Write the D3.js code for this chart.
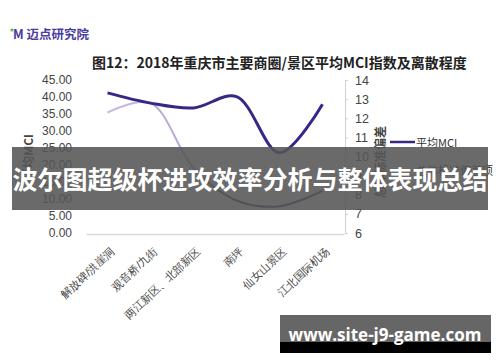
<!DOCTYPE html>
<html>
<head>
<meta charset="utf-8">
<script src="https://cdn.jsdelivr.net/npm/d3@7.9.0/dist/d3.min.js"></script>
<style>
  body { margin: 0; background: #fff; }
  svg { display: block; font-family: "Noto Sans CJK SC", "Liberation Sans", sans-serif; }
</style>
</head>
<body>
<svg width="500" height="362"></svg>
<script>
// data
const categories = ['解放碑/洪崖洞', '观音桥/九街', '两江新区、北部新区', '南坪', '仙女山景区', '江北国际机场'];
const mciValues = [41.2, 38.2, 36.8, 40.1, 23.6, 37.9];
const stdValues = [12.3, 12.8, 9.4, 7.7, 7.4, 8.2];
const leftTicks = [0, 5, 10, 15, 20, 25, 30, 35, 40, 45];
const rightTicks = [6, 7, 8, 9, 10, 11, 12, 13, 14];

const svg = d3.select('svg');

let x = d3.scaleBand().domain(categories).range([86, 344]);
let yL = d3.scaleLinear().domain([0, 45]).range([233, 80]);
let yR = d3.scaleLinear().domain([6, 14]).range([233, 80]);
const cx = d => x(d) + x.bandwidth() / 2;

// logo + title
svg.append('circle').attr('cx', 12).attr('cy', 30).attr('r', 1.6).attr('fill', '#5cb85c');
svg.append('text').attr('x', 13).attr('y', 39)
  .attr('font-size', 12.5).attr('font-weight', 'bold').attr('fill', '#4a3c9c')
  .text('M 迈点研究院');
svg.append('text').attr('x', 92).attr('y', 68)
  .attr('font-size', 14).attr('font-weight', 'bold').attr('fill', '#222')
  .text('图12：2018年重庆市主要商圈/景区平均MCI指数及离散程度');

// left axis
let gL = svg.append('g').attr('transform', 'translate(76,0)')
  .call(d3.axisLeft(yL).tickValues(leftTicks).tickFormat(d3.format('.2f')).tickSize(0).tickPadding(4));
gL.select('.domain').remove();
gL.selectAll('text').attr('font-size', 12).attr('fill', '#444').attr('font-family', '"Liberation Sans", sans-serif');

// right axis
let gR = svg.append('g').attr('transform', 'translate(345,0)')
  .call(d3.axisRight(yR).tickValues(rightTicks).tickSize(3).tickSizeOuter(0).tickPadding(7));
gR.select('.domain').attr('stroke', '#d0d0d0');
gR.selectAll('line').attr('stroke', '#d0d0d0');
gR.selectAll('text').attr('font-size', 12.5).attr('fill', '#444').attr('font-family', '"Liberation Sans", sans-serif');

// bottom axis
let gB = svg.append('g').attr('transform', 'translate(0,234)')
  .call(d3.axisBottom(x).tickSize(0).tickSizeOuter(0));
gB.select('.domain').attr('stroke', '#d9d9d9').attr('stroke-width', 1.5);
gB.selectAll('text')
  .attr('font-size', 11).attr('fill', '#444')
  .attr('text-anchor', 'end').attr('y', 0).attr('dy', null)
  .attr('transform', 'translate(8,18) rotate(-43)');

// axis titles
svg.append('text').attr('transform', 'translate(33,157) rotate(-90)')
  .attr('text-anchor', 'middle').attr('font-size', 12).attr('font-weight', 'bold').attr('fill', '#444')
  .text('平均MCI');
svg.append('text').attr('transform', 'translate(385,162) rotate(-90)')
  .attr('text-anchor', 'middle').attr('font-size', 12).attr('font-weight', 'bold').attr('fill', '#444')
  .text('总体标准偏差');

// gradient for the std line
let grad = svg.append('defs').append('linearGradient').attr('id', 'stdGrad')
  .attr('gradientUnits', 'userSpaceOnUse')
  .attr('x1', cx(categories[0])).attr('x2', cx(categories[5])).attr('y1', 0).attr('y2', 0);
grad.append('stop').attr('offset', '0%').attr('stop-color', '#cbbbe4');
grad.append('stop').attr('offset', '35%').attr('stop-color', '#b9a6d6');
grad.append('stop').attr('offset', '60%').attr('stop-color', '#3e2f6e');
grad.append('stop').attr('offset', '100%').attr('stop-color', '#3e2f6e');

let stdLine = d3.line().x((d, i) => cx(categories[i])).y(d => yR(d)).curve(d3.curveCatmullRom.alpha(0.5));
let mciLine = d3.line().x((d, i) => cx(categories[i])).y(d => yL(d)).curve(d3.curveCatmullRom.alpha(0.5));

svg.append('path').attr('d', stdLine(stdValues))
  .attr('fill', 'none').attr('stroke', 'url(#stdGrad)').attr('stroke-width', 2);
svg.append('path').attr('d', mciLine(mciValues))
  .attr('fill', 'none').attr('stroke', '#372787').attr('stroke-width', 3);

// legend
const legend = [
  { label: '平均MCI', color: '#372787', w: 2.5, y: 142 },
  { label: '总体标准偏差项', color: '#8f84a8', w: 1.2, y: 170 }
];
legend.forEach(d => {
  svg.append('line').attr('x1', 390).attr('x2', 415).attr('y1', d.y).attr('y2', d.y)
    .attr('stroke', d.color).attr('stroke-width', d.w);
  svg.append('text').attr('x', 416).attr('y', d.y + 4.5)
    .attr('font-size', 11).attr('fill', '#333').text(d.label);
});

// banner overlay
svg.append('rect').attr('x', 12).attr('y', 147).attr('width', 476).attr('height', 63)
  .attr('fill', 'rgb(85,85,85)').attr('fill-opacity', 0.88);
svg.append('text').attr('x', 250).attr('y', 189).attr('text-anchor', 'middle')
  .attr('font-size', 25).attr('font-weight', 'bold').attr('fill', '#fff')
  .text('波尔图超级杯进攻效率分析与整体表现总结');

// watermark
svg.append('rect').attr('x', 280).attr('y', 315).attr('width', 211).attr('height', 27).attr('fill', '#666');
svg.append('rect').attr('x', 280).attr('y', 342).attr('width', 211).attr('height', 11).attr('fill', '#000');
svg.append('text').attr('x', 385).attr('y', 341).attr('text-anchor', 'middle')
  .attr('font-size', 17).attr('font-weight', 'bold').attr('fill', '#fff')
  .attr('font-family', '"Open Sans", "Liberation Sans", sans-serif')
  .text('www.site-j9-game.com');
</script>
</body>
</html>
